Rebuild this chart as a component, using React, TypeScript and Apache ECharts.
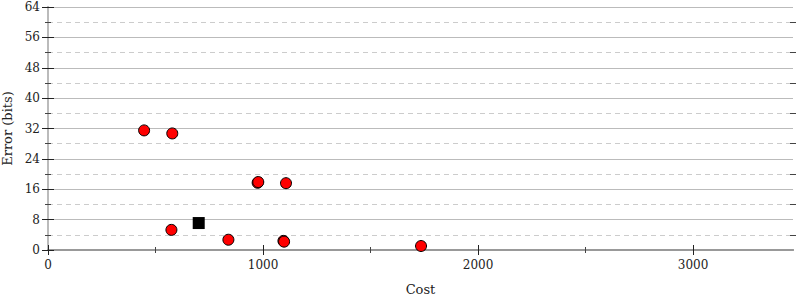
import React, { useEffect, useRef } from "react";
import * as echarts from "echarts";

const redPoints: [number, number][] = [
  [447, 31.5],
  [578, 30.7],
  [574, 5.3],
  [839, 2.7],
  [975, 17.7],
  [978, 17.9],
  [1107, 17.6],
  [1095, 2.4],
  [1098, 2.2],
  [1735, 1.05],
];
const blackPoints: [number, number][] = [[701, 7.1]];

const xMajor = [0, 1000, 2000, 3000];
const xMinor = [500, 1500, 2500];
const yMajor = [0, 8, 16, 24, 32, 40, 48, 56, 64];
const yMinor = [4, 12, 20, 28, 36, 44, 52, 60];

const X_MAX = 3465;
const Y_MAX = 64;
const FONT = "DejaVu Serif";

function tickX(values: number[], len: number, inside: boolean, color: string, pos = "bottom") {
  return {
    type: "value",
    position: pos,
    min: 0,
    max: X_MAX,
    interval: 1000,
    axisLine: { show: false },
    axisLabel: { show: false },
    splitLine: { show: false },
    axisTick: { show: true, inside, length: len, customValues: values, lineStyle: { color, width: 1 } },
  };
}
function tickY(values: number[], len: number, inside: boolean, color: string, pos: string) {
  return {
    type: "value",
    position: pos,
    min: 0,
    max: Y_MAX,
    interval: 8,
    axisLine: { show: false },
    axisLabel: { show: false },
    splitLine: { show: false },
    axisTick: { show: true, inside, length: len, customValues: values, lineStyle: { color, width: 1 } },
  };
}

export default function App() {
  const ref = useRef<HTMLDivElement>(null);
  useEffect(() => {
    if (!ref.current) return;
    const chart = echarts.init(ref.current, undefined, { renderer: "svg" });
    chart.setOption({
      animation: false,
      grid: { left: 48, right: 7, top: 7, bottom: 50, containLabel: false, outerBoundsMode: "none" },
      xAxis: [
        {
          type: "value",
          position: "bottom",
          min: 0,
          max: X_MAX,
          interval: 1000,
          name: "Cost",
          nameLocation: "middle",
          nameGap: 33,
          nameTextStyle: { fontFamily: FONT, fontSize: 13, color: "#222" },
          axisLine: { show: true, lineStyle: { color: "#999", width: 2 } },
          axisTick: { show: true, length: 5, customValues: xMajor, lineStyle: { color: "#222" } },
          axisLabel: {
            fontFamily: FONT,
            fontSize: 12,
            color: "#222",
            margin: 9,
            customValues: xMajor,
            formatter: (v: number) => String(v),
          },
          splitLine: { show: false },
        },
        tickX(xMajor, 5, true, "#222"),
        tickX(xMinor, 3, true, "#444"),
        tickX(xMinor, 3, false, "#444"),
        {
          type: "value",
          position: "top",
          min: 0,
          max: X_MAX,
          axisLine: { show: true, lineStyle: { color: "#999", width: 2 } },
          axisTick: { show: false },
          axisLabel: { show: false },
          splitLine: { show: false },
        },
      ],
      yAxis: [
        {
          type: "value",
          position: "left",
          min: 0,
          max: Y_MAX,
          interval: 8,
          name: "Error (bits)",
          nameLocation: "middle",
          nameGap: 33,
          nameTextStyle: { fontFamily: FONT, fontSize: 13, color: "#222" },
          axisLine: { show: true, lineStyle: { color: "#bbb", width: 2 } },
          axisTick: { show: true, length: 6, lineStyle: { color: "#222" } },
          axisLabel: { fontFamily: FONT, fontSize: 12, color: "#222", margin: 8 },
          splitLine: { show: true, lineStyle: { color: "#bbb", width: 1 } },
          minorTick: { show: false, splitNumber: 2 },
          minorSplitLine: { show: true, lineStyle: { color: "#ccc", width: 1, type: [5, 4] } },
        },
        tickY(yMinor, 3, true, "#444", "left"),
        tickY(yMinor, 3, false, "#444", "left"),
        {
          type: "value",
          position: "right",
          min: 0,
          max: Y_MAX,
          interval: 8,
          axisLine: { show: true, lineStyle: { color: "#bbb", width: 2 } },
          axisTick: { show: true, length: 6, inside: true, customValues: yMajor, lineStyle: { color: "#222" } },
          axisLabel: { show: false },
          splitLine: { show: false },
        },
        tickY(yMajor, 6, false, "#222", "right"),
        tickY(yMinor, 3, true, "#444", "right"),
        tickY(yMinor, 3, false, "#444", "right"),
      ],
      series: [
        {
          type: "scatter",
          xAxisIndex: 0,
          yAxisIndex: 0,
          data: redPoints,
          symbol: "circle",
          symbolSize: 11,
          itemStyle: { color: "#ff0000", borderColor: "#000", borderWidth: 1, opacity: 1 },
          emphasis: { disabled: true },
        },
        {
          type: "scatter",
          xAxisIndex: 0,
          yAxisIndex: 0,
          data: blackPoints,
          symbol: "rect",
          symbolSize: 12,
          itemStyle: { color: "#000", opacity: 1 },
          emphasis: { disabled: true },
        },
      ],
    });
    return () => chart.dispose();
  }, []);
  return <div ref={ref} style={{ width: 800, height: 300, position: "absolute", left: 0, top: 0 }} />;
}
